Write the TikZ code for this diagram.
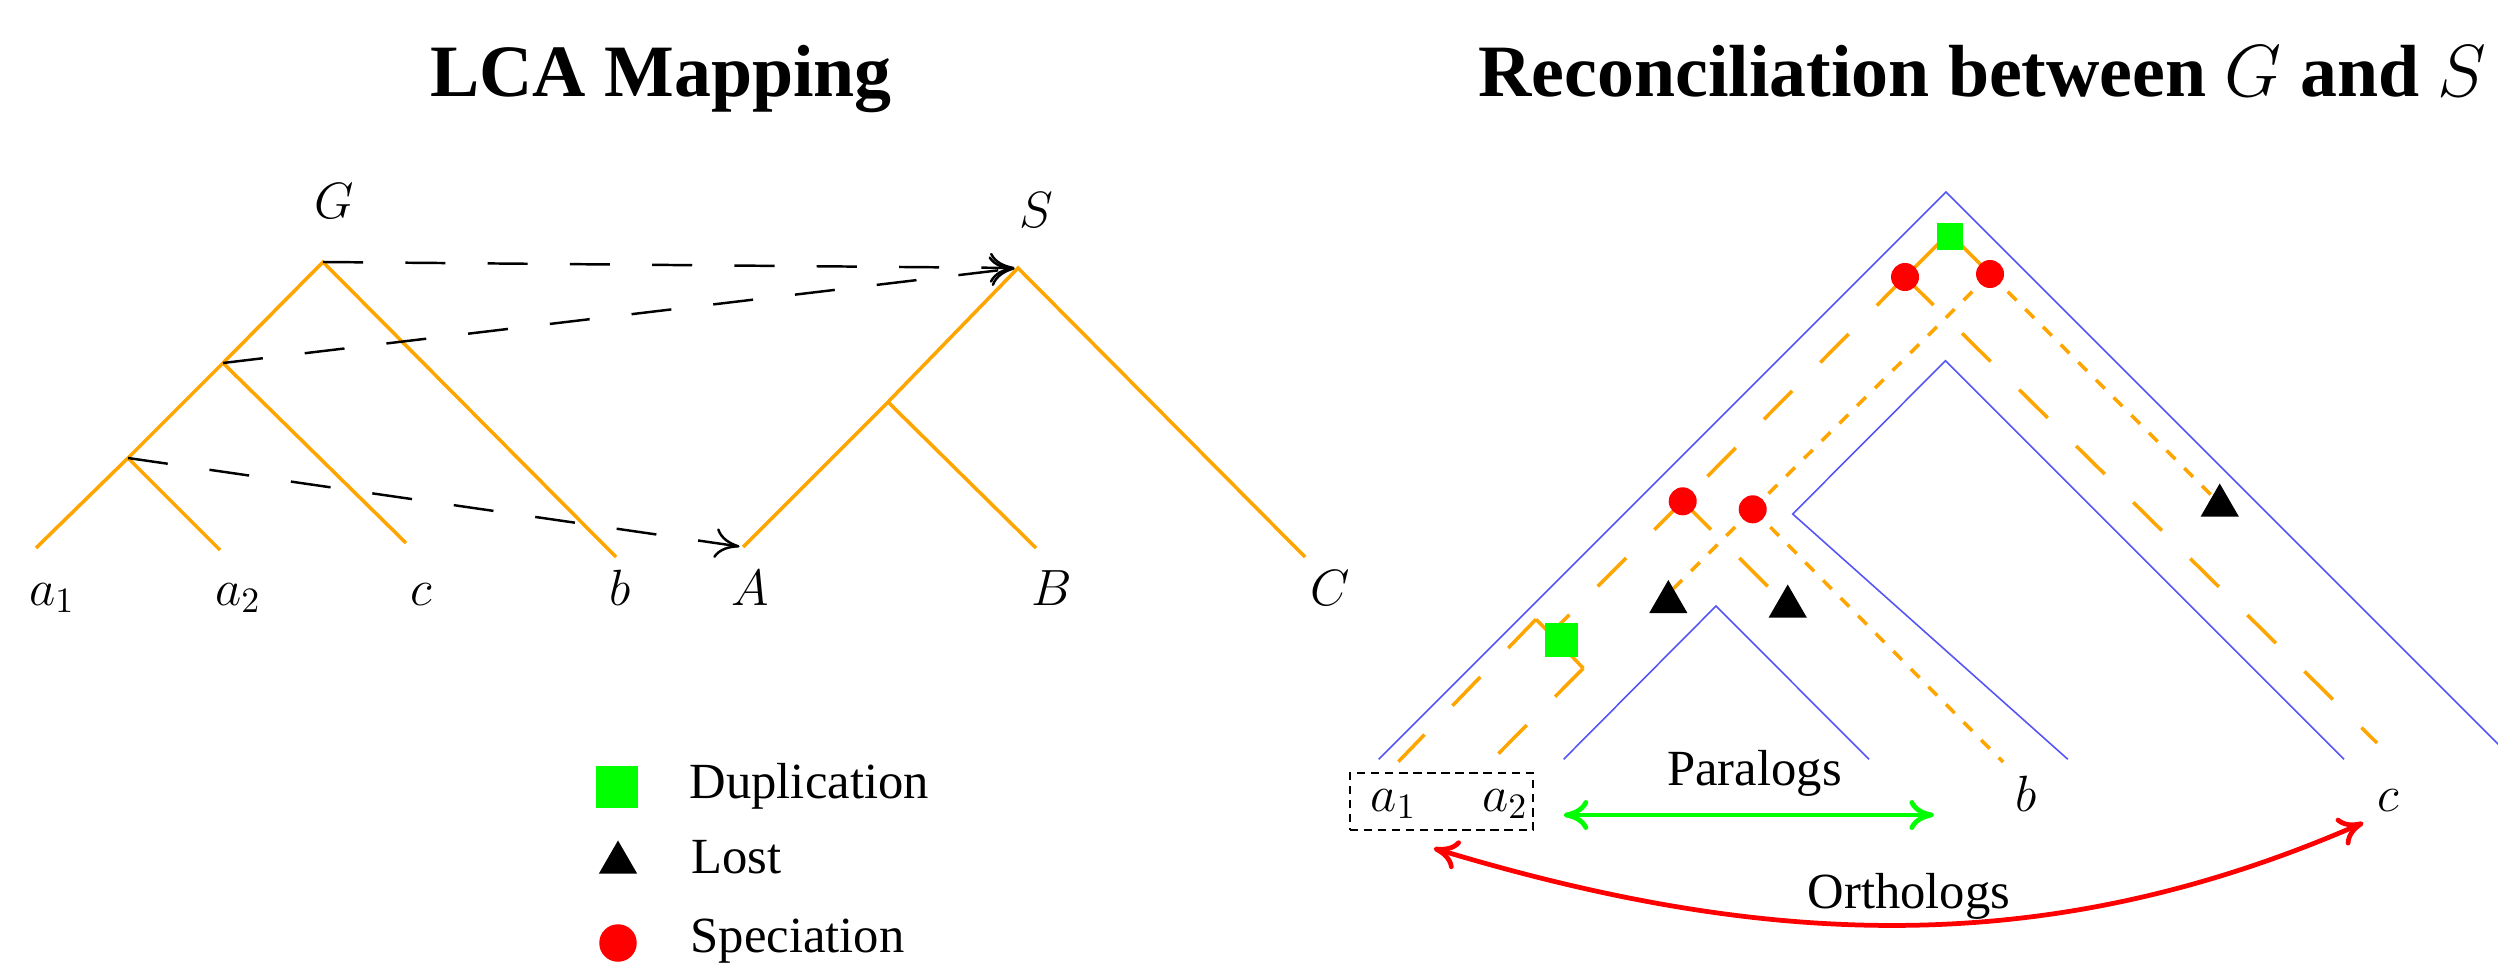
\RequirePackage{fix-cm}
\documentclass[tikz,border=0pt]{standalone}
\usepackage[no-math]{fontspec}
\setmainfont{Liberation Serif}
\usetikzlibrary{arrows.meta,shapes.geometric}
\definecolor{treeorange}{RGB}{255,165,0}
\definecolor{boundblue}{RGB}{85,85,245}
\definecolor{dupgreen}{RGB}{0,255,0}
\definecolor{specred}{RGB}{255,0,0}
\begin{document}
\begin{tikzpicture}[x=0.01cm,y=-0.01cm,
  gtree/.style={draw=treeorange,line width=1pt},
  longdash/.style={gtree,dash pattern=on 11.4pt off 11.4pt},
  shortdash/.style={gtree,dash pattern=on 3.5pt off 3.6pt},
  bound/.style={draw=boundblue,line width=0.45pt},
  mapping/.style={draw=black,line width=0.7pt,dash pattern=on 11.4pt off 12pt,-{Computer Modern Rightarrow[length=7pt,width=8.5pt]},shorten >=1pt},
  dupmark/.style={rectangle,fill=dupgreen,inner sep=0pt},
  specmark/.style={circle,fill=specred,inner sep=0pt,minimum size=0.28cm},
  lostmark/.style={regular polygon,regular polygon sides=3,fill=black,inner sep=0pt,minimum size=0.44cm},
  lbl/.style={font=\fontsize{14.5}{17}\selectfont,inner sep=0pt,anchor=base},
  txt/.style={font=\fontsize{14.4}{17}\selectfont,inner sep=0pt},
  ttl/.style={font=\fontsize{21}{25}\selectfont\bfseries,inner sep=0pt,anchor=base},
  hom/.style={line width=1.35pt,{Computer Modern Rightarrow[length=7pt,width=8.5pt]}-{Computer Modern Rightarrow[length=7pt,width=8.5pt]}},
  boxd/.style={draw=black,line width=0.65pt,dash pattern=on 2.4pt off 1.6pt,inner sep=0pt}
]
\path[use as bounding box] (0,0) rectangle (2498,964);

% titles
\node[ttl] (title1) at (661,96.7) {LCA Mapping};
\node[ttl] (title2) at (1982.5,96.7) {Reconciliation between $G$ and $S$};

% ---------- left: gene tree G ----------
\coordinate (g0) at (323,262);
\coordinate (g1) at (223,363);
\coordinate (g2) at (128,458);
\coordinate (ga1) at (36,548);
\coordinate (ga2) at (220,550);
\coordinate (gc) at (406,543);
\coordinate (gb) at (616,557);
\draw[gtree] (ga1) -- (g2) -- (g1) -- (g0) -- (gb);
\draw[gtree] (g2) -- (ga2);
\draw[gtree] (g1) -- (gc);

% species tree S
\coordinate (s0) at (1018,268);
\coordinate (s1) at (888,402);
\coordinate (sA) at (743,547);
\coordinate (sB) at (1036,548);
\coordinate (sC) at (1305,557);
\draw[gtree] (sA) -- (s1) -- (s0) -- (sC);
\draw[gtree] (s1) -- (sB);

% LCA mapping arrows
\draw[mapping] (g0) -- (s0);
\draw[mapping] (g1) -- (s0);
\draw[mapping] (g2) -- (sA);

% left labels
\node[lbl] (lG) at (334,219) {$G$};
\node[lbl] (lS) at (1036,228) {$S$};
\node[lbl] (la1) at (52,605) {$a_1$};
\node[lbl] (la2) at (238,605) {$a_2$};
\node[lbl] (lc) at (421,605) {$c$};
\node[lbl] (lb) at (620,605) {$b$};
\node[lbl] (lA) at (750,605) {$A$};
\node[lbl] (lB) at (1052,605) {$B$};
\node[lbl] (lC) at (1330,605) {$C$};

% legend
\node[dupmark,minimum size=0.42cm] (legd) at (617,787) {};
\node[lostmark] (legl) at (618,862.5) {};
\node[specmark,minimum size=0.375cm] (legs) at (618,943) {};
\node[txt,anchor=base west] (legdt) at (689,798) {Duplication};
\node[txt,anchor=base west] (leglt) at (691,873) {Lost};
\node[txt,anchor=base west] (legst) at (690,952) {Speciation};

% ---------- right: reconciliation ----------
\draw[bound] (1378.7,759.3) -- (1946,192) -- (2506,752);
\draw[bound] (2067.8,759.3) -- (1792.7,514) -- (1945.5,360.7) -- (2344,759.3);
\draw[bound] (1563.6,759.3) -- (1716,606) -- (1869,759.3);

\coordinate (r0) at (1949,233);
\coordinate (r1) at (1905,277);
\coordinate (r2) at (1990,274);
\coordinate (r11) at (1682.7,501.3);
\coordinate (r21) at (1752.7,509.3);
\coordinate (rd) at (1550.3,633.7);
\coordinate (rk1) at (1536,619.3);
\coordinate (rk2) at (1583.3,668.3);
\coordinate (ea1) at (1398.3,761.7);
\coordinate (ea2) at (1497.7,754.3);
\coordinate (eb) at (2003,762);
\coordinate (ec) at (2377,743);
\coordinate (lendA) at (1670,592);
\coordinate (lendB) at (1785,603.6);
\coordinate (lendC) at (2217,501);

\draw[gtree] (r0) -- (r1);
\draw[gtree] (r0) -- (r2);
\draw[longdash] (r1) -- (r11);
\draw[longdash] (r1) -- (ec);
\draw[shortdash] (r2) -- (r21);
\draw[shortdash] (r2) -- (lendC);
\draw[longdash] (r11) -- (rd);
\draw[longdash] (r11) -- (lendB);
\draw[shortdash] (r21) -- (lendA);
\draw[shortdash] (r21) -- (eb);
\draw[gtree] (rd) -- (rk1);
\draw[gtree] (rd) -- (rk2);
\draw[longdash] (rk1) -- (ea1);
\draw[longdash] (rk2) -- (ea2);

\node[dupmark,minimum size=0.267cm] (d0) at (1950,236.7) {};
\node[specmark] (n1) at (r1) {};
\node[specmark] (n2) at (r2) {};
\node[specmark] (n11) at (r11) {};
\node[specmark] (n21) at (r21) {};
\node[dupmark,minimum size=0.33cm] (d1) at (1561.7,640) {};
\node[lostmark] (tA) at (1668.3,602) {};
\node[lostmark] (tB) at (1787.7,606.5) {};
\node[lostmark] (tC) at (2219.7,505.5) {};

% leaf labels
\node[boxd,minimum width=1.833cm,minimum height=0.567cm] (abox) at (1441.4,801.7) {};
\node[lbl] (ra1) at (1393.6,811) {$a_1$};
\node[lbl] (ra2) at (1505,811) {$a_2$};
\node[lbl] (rb) at (2025.7,811) {$b$};
\node[lbl] (rc) at (2388.5,811) {$c$};

% paralogs / orthologs
\coordinate (parL) at (1563.6,815);
\coordinate (parR) at (1934,815);
\draw[hom,draw=dupgreen] (parL) -- (parR);
\node[txt,anchor=base] (partxt) at (1754.5,785) {Paralogs};

\coordinate (ortL) at (1433.7,848.3);
\coordinate (ortR) at (2363.4,822.7);
\coordinate (ortc1) at (1766,948.6);
\coordinate (ortc2) at (2046,961);
\draw[hom,draw=specred] (ortL) .. controls (ortc1) and (ortc2) .. (ortR);
\node[txt,anchor=base] (orttxt) at (1909,908) {Orthologs};
\end{tikzpicture}
\end{document}
